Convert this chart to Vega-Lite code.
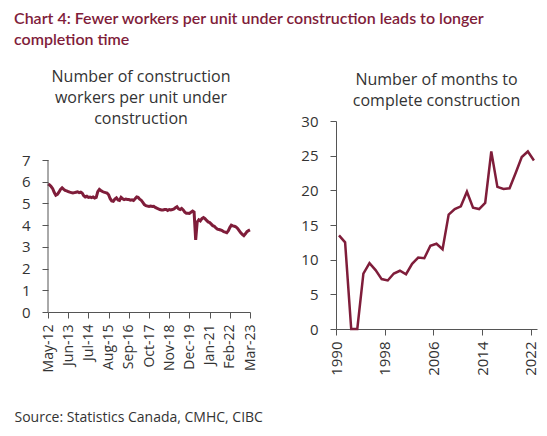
{
  "$schema": "https://vega.github.io/schema/vega-lite/v6.json",
  "background": "white",
  "padding": {"left": 14, "top": 11, "right": 4, "bottom": 4},
  "title": {
    "text": ["Chart 4: Fewer workers per unit under construction leads to longer", "completion time"],
    "anchor": "start",
    "font": "Lato",
    "fontSize": 16,
    "fontWeight": 600,
    "lineHeight": 21,
    "color": "#7f1d3a",
    "offset": 21
  },
  "config": {
    "view": {"stroke": null},
    "concat": {"spacing": 37},
    "axis": {
      "grid": false,
      "domainColor": "#555555",
      "tickColor": "#555555",
      "tickSize": 6,
      "labelColor": "#333333",
      "labelFont": "Open Sans",
      "labelFontSize": 15,
      "titleFont": "Open Sans"
    },
    "title": {"font": "Open Sans", "fontSize": 16, "fontWeight": "normal", "color": "#333333", "lineHeight": 21}
  },
  "hconcat": [
    {
      "width": 202,
      "height": 191,
      "title": {"text": ["Number of construction", "workers per unit under", "construction"], "anchor": "middle", "dx": -8, "offset": -6},
      "layer": [
        {
          "data": {"values": [
            {"d":"2012-05-01","v":5.90},{"d":"2012-06-01","v":5.85},{"d":"2012-07-01","v":5.78},{"d":"2012-08-01","v":5.68},{"d":"2012-09-01","v":5.50},{"d":"2012-10-01","v":5.38},{"d":"2012-11-01","v":5.42},{"d":"2012-12-01","v":5.52},
            {"d":"2013-01-01","v":5.65},{"d":"2013-02-01","v":5.72},{"d":"2013-03-01","v":5.66},{"d":"2013-04-01","v":5.60},{"d":"2013-05-01","v":5.58},{"d":"2013-06-01","v":5.55},{"d":"2013-07-01","v":5.52},{"d":"2013-08-01","v":5.50},{"d":"2013-09-01","v":5.48},{"d":"2013-10-01","v":5.50},{"d":"2013-11-01","v":5.52},{"d":"2013-12-01","v":5.54},
            {"d":"2014-01-01","v":5.50},{"d":"2014-02-01","v":5.52},{"d":"2014-03-01","v":5.48},{"d":"2014-04-01","v":5.36},{"d":"2014-05-01","v":5.30},{"d":"2014-06-01","v":5.33},{"d":"2014-07-01","v":5.28},{"d":"2014-08-01","v":5.30},{"d":"2014-09-01","v":5.27},{"d":"2014-10-01","v":5.30},{"d":"2014-11-01","v":5.25},{"d":"2014-12-01","v":5.28},
            {"d":"2015-01-01","v":5.55},{"d":"2015-02-01","v":5.65},{"d":"2015-03-01","v":5.60},{"d":"2015-04-01","v":5.55},{"d":"2015-05-01","v":5.52},{"d":"2015-06-01","v":5.50},{"d":"2015-07-01","v":5.48},{"d":"2015-08-01","v":5.40},{"d":"2015-09-01","v":5.22},{"d":"2015-10-01","v":5.12},{"d":"2015-11-01","v":5.10},{"d":"2015-12-01","v":5.20},
            {"d":"2016-01-01","v":5.26},{"d":"2016-02-01","v":5.16},{"d":"2016-03-01","v":5.14},{"d":"2016-04-01","v":5.28},{"d":"2016-05-01","v":5.22},{"d":"2016-06-01","v":5.18},{"d":"2016-07-01","v":5.20},{"d":"2016-08-01","v":5.18},{"d":"2016-09-01","v":5.18},{"d":"2016-10-01","v":5.15},{"d":"2016-11-01","v":5.17},{"d":"2016-12-01","v":5.14},
            {"d":"2017-01-01","v":5.22},{"d":"2017-02-01","v":5.30},{"d":"2017-03-01","v":5.28},{"d":"2017-04-01","v":5.20},{"d":"2017-05-01","v":5.15},{"d":"2017-06-01","v":5.05},{"d":"2017-07-01","v":4.95},{"d":"2017-08-01","v":4.90},{"d":"2017-09-01","v":4.88},{"d":"2017-10-01","v":4.86},{"d":"2017-11-01","v":4.88},{"d":"2017-12-01","v":4.86},
            {"d":"2018-01-01","v":4.87},{"d":"2018-02-01","v":4.82},{"d":"2018-03-01","v":4.78},{"d":"2018-04-01","v":4.75},{"d":"2018-05-01","v":4.72},{"d":"2018-06-01","v":4.70},{"d":"2018-07-01","v":4.70},{"d":"2018-08-01","v":4.72},{"d":"2018-09-01","v":4.72},{"d":"2018-10-01","v":4.68},{"d":"2018-11-01","v":4.72},{"d":"2018-12-01","v":4.70},
            {"d":"2019-01-01","v":4.72},{"d":"2019-02-01","v":4.75},{"d":"2019-03-01","v":4.80},{"d":"2019-04-01","v":4.85},{"d":"2019-05-01","v":4.75},{"d":"2019-06-01","v":4.72},{"d":"2019-07-01","v":4.77},{"d":"2019-08-01","v":4.70},{"d":"2019-09-01","v":4.60},{"d":"2019-10-01","v":4.55},{"d":"2019-11-01","v":4.55},{"d":"2019-12-01","v":4.54},
            {"d":"2020-01-01","v":4.60},{"d":"2020-02-01","v":4.65},{"d":"2020-03-01","v":4.60},{"d":"2020-04-01","v":3.32},{"d":"2020-05-01","v":4.15},{"d":"2020-06-01","v":4.25},{"d":"2020-07-01","v":4.20},{"d":"2020-08-01","v":4.30},{"d":"2020-09-01","v":4.35},{"d":"2020-10-01","v":4.30},{"d":"2020-11-01","v":4.22},{"d":"2020-12-01","v":4.15},
            {"d":"2021-01-01","v":4.12},{"d":"2021-02-01","v":4.05},{"d":"2021-03-01","v":3.98},{"d":"2021-04-01","v":3.95},{"d":"2021-05-01","v":3.88},{"d":"2021-06-01","v":3.82},{"d":"2021-07-01","v":3.80},{"d":"2021-08-01","v":3.78},{"d":"2021-09-01","v":3.75},{"d":"2021-10-01","v":3.70},{"d":"2021-11-01","v":3.68},{"d":"2021-12-01","v":3.65},
            {"d":"2022-01-01","v":3.75},{"d":"2022-02-01","v":3.90},{"d":"2022-03-01","v":4.00},{"d":"2022-04-01","v":3.97},{"d":"2022-05-01","v":3.95},{"d":"2022-06-01","v":3.92},{"d":"2022-07-01","v":3.85},{"d":"2022-08-01","v":3.75},{"d":"2022-09-01","v":3.65},{"d":"2022-10-01","v":3.58},{"d":"2022-11-01","v":3.52},{"d":"2022-12-01","v":3.60},
            {"d":"2023-01-01","v":3.70},{"d":"2023-02-01","v":3.75},{"d":"2023-03-01","v":3.78}
          ]},
          "mark": {"type": "line", "color": "#7f1d3a", "strokeWidth": 3},
          "encoding": {
            "x": {
              "field": "d", "type": "temporal",
              "scale": {"type": "utc", "domain": [{"year":2012,"month":5,"date":1,"utc":true},{"year":2023,"month":3,"date":1,"utc":true}]},
              "axis": {
                "values": [
                  {"year":2012,"month":5,"date":1,"utc":true},{"year":2013,"month":6,"date":1,"utc":true},{"year":2014,"month":7,"date":1,"utc":true},{"year":2015,"month":8,"date":1,"utc":true},{"year":2016,"month":9,"date":1,"utc":true},{"year":2017,"month":10,"date":1,"utc":true},{"year":2018,"month":11,"date":1,"utc":true},{"year":2019,"month":12,"date":1,"utc":true},{"year":2021,"month":1,"date":1,"utc":true},{"year":2022,"month":2,"date":1,"utc":true},{"year":2023,"month":3,"date":1,"utc":true}
                ],
                "labelExpr": "utcFormat(datum.value, '%b-%y')",
                "labelAngle": 270, "labelFontSize": 14, "labelPadding": 6, "labelOverlap": false, "labelFlush": false,
                "title": "Source: Statistics Canada, CMHC, CIBC",
                "titleX": -34, "titleY": 109, "titleAlign": "left", "titleBaseline": "alphabetic", "titleAnchor": null,
                "titleFontSize": 14, "titleFontWeight": "normal", "titleColor": "#333333"
              }
            },
            "y": {
              "field": "v", "type": "quantitative",
              "scale": {"domain": [0, 8.8], "nice": false},
              "axis": {"values": [0,1,2,3,4,5,6,7], "title": null, "labelPadding": 12, "domain": false}
            }
          }
        },
        {
          "data": {"values": [{"d":"2012-05-01","lo":0,"hi":7}]},
          "mark": {"type": "rule", "color": "#555555", "strokeWidth": 1},
          "encoding": {
            "x": {
              "field": "d", "type": "temporal",
              "scale": {"type": "utc", "domain": [{"year":2012,"month":5,"date":1,"utc":true},{"year":2023,"month":3,"date":1,"utc":true}]},
              "axis": {
                "values": [
                  {"year":2012,"month":5,"date":1,"utc":true},{"year":2013,"month":6,"date":1,"utc":true},{"year":2014,"month":7,"date":1,"utc":true},{"year":2015,"month":8,"date":1,"utc":true},{"year":2016,"month":9,"date":1,"utc":true},{"year":2017,"month":10,"date":1,"utc":true},{"year":2018,"month":11,"date":1,"utc":true},{"year":2019,"month":12,"date":1,"utc":true},{"year":2021,"month":1,"date":1,"utc":true},{"year":2022,"month":2,"date":1,"utc":true},{"year":2023,"month":3,"date":1,"utc":true}
                ],
                "labelExpr": "utcFormat(datum.value, '%b-%y')",
                "labelAngle": 270, "labelFontSize": 14, "labelPadding": 6, "labelOverlap": false, "labelFlush": false,
                "title": "Source: Statistics Canada, CMHC, CIBC",
                "titleX": -34, "titleY": 109, "titleAlign": "left", "titleBaseline": "alphabetic", "titleAnchor": null,
                "titleFontSize": 14, "titleFontWeight": "normal", "titleColor": "#333333"
              }
            },
            "y": {
              "field": "lo", "type": "quantitative",
              "scale": {"domain": [0, 8.8], "nice": false},
              "axis": {"values": [0,1,2,3,4,5,6,7], "title": null, "labelPadding": 12, "domain": false}
            },
            "y2": {"field": "hi"}
          }
        }
      ]
    },
    {
      "width": 201,
      "height": 208,
      "title": {"text": ["Number of months to", "complete construction"], "anchor": "middle", "offset": 5},
      "data": {"values": [
        {"d":"1990-07-01","v":13.5},{"d":"1991-07-01","v":12.5},{"d":"1992-07-01","v":0},{"d":"1993-07-01","v":0},{"d":"1994-07-01","v":8.0},{"d":"1995-07-01","v":9.5},{"d":"1996-07-01","v":8.5},{"d":"1997-07-01","v":7.2},{"d":"1998-07-01","v":7.0},{"d":"1999-07-01","v":8.0},{"d":"2000-07-01","v":8.4},{"d":"2001-07-01","v":7.9},{"d":"2002-07-01","v":9.4},{"d":"2003-07-01","v":10.3},{"d":"2004-07-01","v":10.2},{"d":"2005-07-01","v":12.0},{"d":"2006-07-01","v":12.3},{"d":"2007-07-01","v":11.5},{"d":"2008-07-01","v":16.5},{"d":"2009-07-01","v":17.3},{"d":"2010-07-01","v":17.7},{"d":"2011-07-01","v":19.8},{"d":"2012-07-01","v":17.5},{"d":"2013-07-01","v":17.3},{"d":"2014-07-01","v":18.2},{"d":"2015-07-01","v":25.6},{"d":"2016-07-01","v":20.5},{"d":"2017-07-01","v":20.2},{"d":"2018-07-01","v":20.3},{"d":"2019-07-01","v":22.5},{"d":"2020-07-01","v":24.8},{"d":"2021-07-01","v":25.6},{"d":"2022-07-01","v":24.3}
      ]},
      "mark": {"type": "line", "color": "#7f1d3a", "strokeWidth": 2.5},
      "encoding": {
        "x": {
          "field": "d", "type": "temporal",
          "scale": {"type": "utc", "domain": [{"year":1990,"month":1,"date":1,"utc":true},{"year":2023,"month":1,"date":1,"utc":true}]},
          "axis": {
            "values": [{"year":1990,"month":1,"date":1,"utc":true},{"year":1998,"month":1,"date":1,"utc":true},{"year":2006,"month":1,"date":1,"utc":true},{"year":2014,"month":1,"date":1,"utc":true},{"year":2022,"month":1,"date":1,"utc":true}],
            "labelExpr": "utcFormat(datum.value, '%Y')",
            "labelAngle": 270, "labelFontSize": 15, "labelPadding": 6, "labelOverlap": false, "labelFlush": false,
            "title": null
          }
        },
        "y": {
          "field": "v", "type": "quantitative",
          "scale": {"domain": [0, 30], "nice": false},
          "axis": {"values": [0,5,10,15,20,25,30], "title": null, "labelPadding": 12}
        }
      }
    }
  ]
}
